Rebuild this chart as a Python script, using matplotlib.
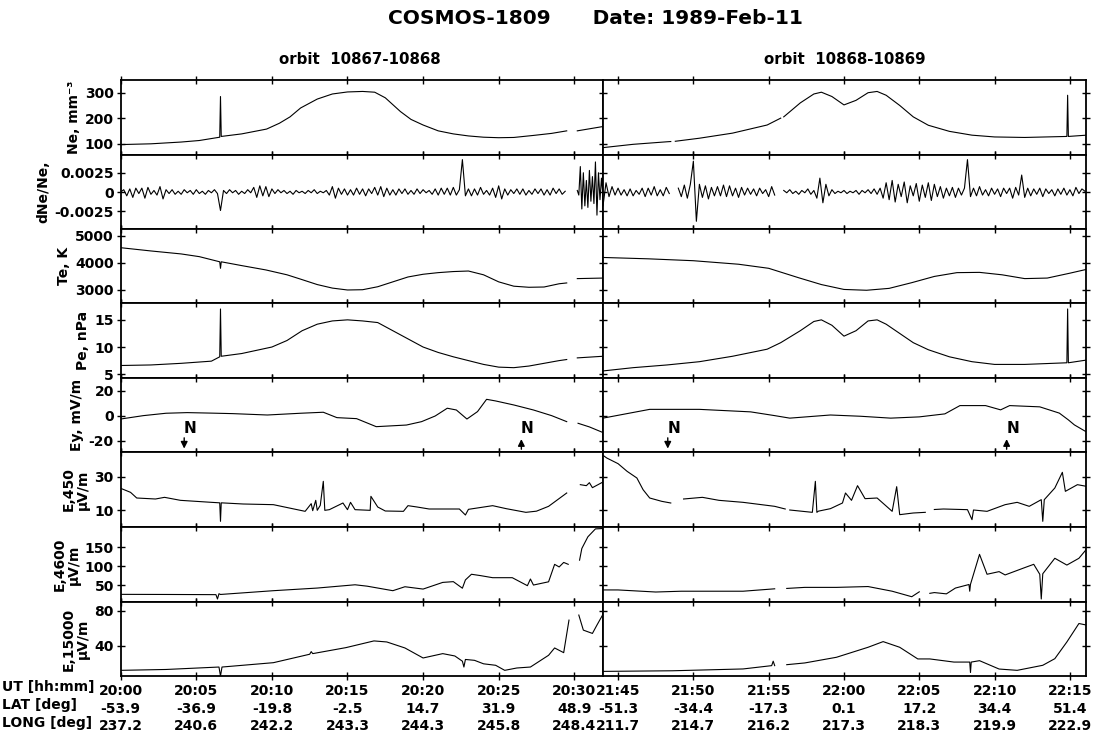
import numpy as np
import matplotlib
matplotlib.use("Agg")
import matplotlib.pyplot as plt

plt.rcParams["font.family"] = ["DejaVu Sans"]
plt.rcParams["font.weight"] = "bold"

nan = np.nan

# ---- orbit 10867-10868 (minutes after 20:00) / orbit 10868-10869 (minutes after 21:45)
ut_left = ["20:00", "20:05", "20:10", "20:15", "20:20", "20:25", "20:30"]
lat_left = ["-53.9", "-36.9", "-19.8", "-2.5", "14.7", "31.9", "48.9"]
long_left = ["237.2", "240.6", "242.2", "243.3", "244.3", "245.8", "248.4"]
ut_right = ["21:45", "21:50", "21:55", "22:00", "22:05", "22:10", "22:15"]
lat_right = ["-51.3", "-34.4", "-17.3", "0.1", "17.2", "34.4", "51.4"]
long_right = ["211.7", "214.7", "216.2", "217.3", "218.3", "219.9", "222.9"]

# Ne
ne_l_t = [0, 2, 4, 5.2, 6.55, 6.6, 6.65, 8, 9.65, 10.5, 11.2, 11.9, 13, 14, 15, 16, 16.8,
          17.5, 18.5, 19.2, 20, 21, 22, 23, 24, 25, 26, 27.3, 28.5, 29.5, 29.6, 30.2, 31, 31.9]
ne_l = [96, 99, 106, 112, 125, 285, 128, 138, 157, 180, 205, 240, 275, 295, 303, 305, 302,
        280, 226, 195, 173, 150, 138, 130, 125, 123, 124, 132, 140, 150, nan, 150, 158, 167]
ne_r_t = [-1, 1, 3.25, 3.5, 3.6, 3.8, 5.4, 7.6, 9.9, 10.8, 10.9, 11.0, 12.1, 13, 13.5, 14.2, 15,
          15.8, 16.6, 17.2, 17.8, 18.7, 19.6, 20.6, 22, 23.5, 25, 27, 29.8, 29.85, 29.9, 31.1]
ne_r = [84, 97, 107, 108, nan, 109, 121, 141, 173, 200, nan, 205, 260, 295, 302, 285, 252,
        270, 300, 305, 290, 250, 205, 172, 148, 133, 126, 124, 128, 290, 128, 133]

# dNe/Ne, units of 1e-4, sampled every 0.2 min
dne_l = [0, 3, -5, 4, -7, 5, -2, 5, -8, 6, -3, 2, -4, 7, -9,
         3, -2, 3, -3, 1, -3, 3, -1, 2, -3, 3, -2, 1, -3, 2, -1, 3, -2,
         -24,
         2, -2, 3, -1, 2, -3, 1, -2, 3, -1,
         6, -7, 8, -5, 7, -6, 4,
         -2, 3, -1, 2, -2, 1, -3, 2, -1, 1, -2, 2, -1, 3, -2, 1, -1, 2,
         -4, 7, -8, 5, -3,
         4, -4, 3, -4, 5, -3, 4, -5, 4, -2, 6, -4, 7, -6, 5, -4, 3, -4, 4, -2, 4, -3,
         2, -3, 4, -2, 3, -1, 2, -3, 4, -4, 5, -3, 5, -4, 6, -4, 3,
         42, -5,
         4, -5, 4, -4, 6, -3, 2, -4, 5, -7, 8, -9, 4, -4, 3, -2, 4, -3, 4, -4, 2, -3,
         4, -2, 4, -4, 3, -4, 5, -2, 4, -3, 1]
dne_l_burst = [2, -4, 33, -22, 25, -18, 15, -20, 28, -12, 20, -15, 39, -30, 25, -10, 18, -5]
dne_r = [-18, 12, -6, 7, -4, 5, -4, 3, -5, 4, -5, 2, -3, 5, -6, 5, -4, 7, -5, 3, -5, 6, -2,
         nan, nan,
         5, -6, 9, -8, 10,
         40, -38,
         10, -7, 8, -9, 6, -5,
         7, -5, 9, -6, 8, -5, 5, -7, 6, -4, 5, -3, 4, -5, 5, -2, 3, -6, 7, -4,
         nan, nan,
         2, -1, 3, -2, 1, -3, 2, -1, 4, -3, 2,
         -8, 18, -14, 10, -5,
         3, -2, 1, -1, 2, -2, 1, -1, 2, -3, 2, -1, 3, -2, 4, -3, 5,
         -8, 12, -10, 15, -13, 10, -6, 13, -14, 8, -5, 11, -12, 9, -7, 12, -11,
         10, -6, 7, -8, 5, -5, 6, -7, 5, -4, 5,
         42,
         -6, 5, -5, 7, -4, 3, -5, 5, -3, 4, -6, 5, -2, 5, -8, 6, -4,
         22,
         -7, 5, -5, 4, -3, 5, -6, 4, -2, 3, -5, 4, -3, 5, -4, 3, -5, 6, -2, 4, 1]

# Te
te_l_t = [0, 2, 4, 5.2, 6.55, 6.6, 6.65, 8, 9.6, 11, 11.9, 13, 14, 15, 16, 17, 18, 19, 20,
          21, 22, 23, 24, 25, 26, 27, 28, 29, 29.5, 29.6, 30.2, 31.9]
te_l = [4560, 4440, 4330, 4230, 4040, 3800, 4040, 3900, 3740, 3560, 3400, 3200, 3070, 3000,
        3010, 3120, 3300, 3480, 3580, 3640, 3680, 3700, 3560, 3300, 3140, 3100, 3110, 3230,
        3260, nan, 3420, 3440]
te_r_t = [-1, 2, 5, 8, 10, 12, 13.5, 15, 16.5, 18, 19.5, 21, 22.5, 24, 25.5, 27, 28.5, 30, 31.1]
te_r = [4200, 4150, 4080, 3950, 3800, 3450, 3200, 3020, 2990, 3060, 3270, 3500, 3640, 3650,
        3560, 3420, 3440, 3620, 3760]

# Pe
pe_l_t = [0, 2, 4, 6, 6.55, 6.6, 6.65, 8, 10, 11, 12, 13, 14, 15, 16, 17, 18, 19, 20, 21,
          22, 23, 24, 25, 26, 27, 28, 29, 29.5, 29.6, 30.2, 31.9]
pe_l = [6.6, 6.7, 7.0, 7.4, 8.2, 17.0, 8.3, 8.8, 10.0, 11.2, 13.0, 14.2, 14.8, 15.0, 14.8,
        14.5, 13.0, 11.5, 10.0, 9.0, 8.2, 7.5, 6.8, 6.3, 6.2, 6.5, 7.0, 7.5, 7.7, nan, 8.0, 8.3]
pe_r_t = [-1, 1, 3.25, 5.4, 7.6, 9.9, 10.8, 12.1, 13, 13.5, 14.2, 15, 15.8, 16.6, 17.2, 17.8,
          18.7, 19.6, 20.6, 22, 23.5, 25, 27, 29.8, 29.85, 29.9, 31.1]
pe_r = [5.6, 6.2, 6.7, 7.3, 8.3, 9.6, 10.8, 13.0, 14.7, 15.0, 14.0, 12.0, 13.0, 14.8, 15.0,
        14.2, 12.5, 10.8, 9.5, 8.2, 7.3, 6.8, 6.8, 7.1, 17.0, 7.1, 7.6]

# Ey
ey_l_t = [0, 1.5, 3.0, 4.4, 6, 7.4, 9.7, 11.9, 13.4, 14.3, 15.6, 16.9, 18.9, 19.9, 20.8, 21.6,
          22.2, 22.9, 23.6, 24.2, 24.8, 26, 27.3, 28.5, 29.5, 29.7, 30.25, 31, 31.9]
ey_l = [-2.7, 0, 1.9, 2.4, 2.0, 1.6, 0.5, 1.9, 2.7, -1.6, -2.4, -8.8, -7.5, -4.8, -0.3, 5.9,
        4.5, -2.7, 3.2, 13.0, 11.7, 8.5, 4.5, 0, -4.8, nan, -6.1, -9, -13.5]
ey_r_t = [-1, 2.1, 5.4, 8.8, 10.4, 11.4, 14.1, 16.1, 18.1, 20, 21.7, 22.7, 24.4, 25.4, 26,
          28, 29.3, 29.9, 30.3, 31.1]
ey_r = [-2, 5, 5, 3, 0, -2, 0.5, -0.5, -2, -1, 1.4, 8, 8, 4.6, 8, 7, 2, -3.4, -7.4, -13]

# E,450
e450_l_t = [0, 0.65, 1.06, 2.3, 2.9, 3.95, 6.0, 6.55, 6.6, 6.65, 8.1, 10.1, 12.2, 12.6, 12.7,
            12.9, 13.0, 13.2, 13.4, 13.5, 13.8, 14.7, 15.0, 15.2, 15.5, 16.5, 16.55, 17.0,
            17.5, 18.7, 19.0, 19.6, 20.4, 22.4, 22.8, 23.0, 24.6, 25.5, 26.8, 27.5, 28.3,
            28.9, 29.5, 29.6, 30.4, 30.8, 31.0, 31.2, 31.9]
e450_l = [23.2, 20.8, 17.4, 16.8, 17.8, 16.0, 14.8, 14.5, 3.4, 14.5, 13.8, 13.4, 9.4, 14.0,
          9.8, 16.0, 10.0, 13.0, 27.4, 10.0, 10.4, 14.4, 10.4, 14.8, 10.4, 10.0, 18.4, 12.0,
          9.6, 9.4, 12.8, 12.0, 10.8, 10.8, 7.2, 10.6, 12.8, 11.0, 8.8, 9.5, 12.4, 16.4,
          20.4, nan, 25.4, 24.8, 26.6, 23.6, 27.0]
e450_r_t = [-1, -0.75, 0, 0.6, 1.25, 1.66, 2.1, 2.9, 3.5, 3.7, 4.1, 4.35, 5.6, 6.7, 8.3,
            10.4, 11.1, 11.2, 11.4, 12.9, 13.1, 13.2, 13.3, 14.1, 14.9, 15.1, 15.5, 15.9,
            16.4, 17.2, 18.2, 18.5, 18.7, 19.6, 20.4, 20.6, 21.0, 21.6, 23.2, 23.5, 23.6,
            24.5, 25.7, 26.5, 27.3, 28.1, 28.2, 28.3, 29.0, 29.5, 29.7, 30.5, 31.1]
e450_r = [43.0, 41.4, 38.0, 33.4, 29.4, 22.4, 17.4, 15.4, 14.4, nan, nan, 16.8, 17.8, 16.0,
          14.8, 12.4, 10.8, nan, 10.2, 8.8, 27.4, 8.8, 9.5, 11.0, 14.4, 20.4, 16.0, 24.8,
          17.0, 17.4, 9.4, 24.2, 7.4, 8.4, 8.8, nan, 10.5, 10.8, 10.4, 4.4, 10.2, 9.4, 13.4,
          14.8, 12.4, 16.4, 3.4, 16.4, 23.4, 32.8, 21.4, 25.4, 24.4]

# E,4600
e4600_l_t = [0, 3, 6.3, 6.4, 6.5, 6.6, 8, 10.1, 13, 15.5, 16.3, 18.0, 18.8, 20.0, 21.3, 22.0,
             22.6, 22.8, 23.2, 23.8, 24.6, 25.9, 26.9, 27.1, 27.3, 28.3, 28.7, 29.0, 29.3,
             29.6, 29.7, 30.35, 30.5, 30.9, 31.4, 31.9]
e4600_l = [25.3, 25.0, 24.5, 13.0, 27.0, 25.0, 29.0, 35.0, 42.0, 50.7, 47.0, 35.0, 45.5, 39.3,
           57.0, 59.0, 41.6, 63.6, 78.6, 75.0, 69.5, 69.5, 48.3, 66.0, 50.0, 58.6, 104.9,
           98.0, 110.0, 105.0, nan, 116.0, 147.0, 178.0, 199.0, 200.0]
e4600_r_t = [-1, 0, 2.5, 4.2, 8.3, 10.4, 10.8, 11.2, 12.4, 14.5, 16.6, 18.2, 19.5, 20.0,
             20.3, 20.7, 21.0, 21.8, 22.4, 23.3, 23.35, 23.4, 24.0, 24.5, 25.3, 25.7, 27.0,
             27.6, 28.0, 28.1, 28.2, 29.0, 29.8, 30.6, 31.1]
e4600_r = [37.0, 37.0, 31.5, 33.6, 33.6, 40.0, nan, 41.0, 43.8, 43.8, 46.0, 33.6, 19.0, 32.0,
           nan, 28.0, 30.0, 26.6, 42.0, 51.4, 33.6, 52.0, 131.4, 78.6, 85.6, 76.8, 96.2, 105.0,
           78.6, 13.0, 80.0, 121.0, 103.0, 121.0, 145.0]

# E,15000
e15k_l_t = [0, 3, 6.5, 6.6, 6.7, 10.1, 12.5, 12.6, 12.7, 14.9, 16.75, 17.6, 18.8, 20.0, 21.3,
            22.1, 22.6, 22.7, 22.8, 23.4, 24.0, 24.8, 25.4, 26.2, 27.1, 28.3, 28.7, 29.3,
            29.65, 29.8, 30.3, 30.6, 31.2, 31.5, 31.9]
e15k_l = [11.5, 12.5, 15.3, 5.0, 15.3, 20.3, 30.0, 33.0, 30.7, 37.6, 45.3, 44.1, 37.2, 25.7,
          30.7, 28.0, 22.0, 15.3, 24.0, 23.0, 19.0, 17.3, 11.5, 14.2, 15.3, 28.8, 37.2, 31.8,
          69.2, nan, 75.0, 57.7, 53.9, 63.5, 75.9]
e15k_r_t = [-1, 3.6, 8.3, 10.2, 10.3, 10.4, 10.8, 11.2, 12.4, 14.5, 16.6, 17.6, 18.7, 19.9,
            20.7, 22.3, 23.35, 23.4, 23.45, 24.0, 25.3, 26.5, 28.2, 29.0, 29.8, 30.6, 31.1]
e15k_r = [10.3, 11.0, 13.1, 16.9, 22.0, 16.9, nan, 18.0, 20.0, 26.5, 38.0, 44.5, 38.0, 24.6,
          24.6, 21.0, 21.0, 9.0, 21.0, 22.6, 13.0, 11.5, 17.3, 24.9, 44.1, 65.3, 63.5]

# N arrows: (time, pointing down?)
arrows_left = [(4.2, True), (26.5, False)]
arrows_right = [(3.3, True), (25.8, False)]

panels = [
    ("Ne, mm⁻³", (55, 350), [100, 200, 300], ["100", "200", "300"]),
    ("dNe/Ne,", (-0.0048, 0.0048), [-0.0025, 0, 0.0025], ["-0.0025", "0", "0.0025"]),
    ("Te, K", (2520, 5250), [3000, 4000, 5000], ["3000", "4000", "5000"]),
    ("Pe, nPa", (4.3, 18.1), [5, 10, 15], ["5", "10", "15"]),
    ("Ey, mV/m", (-29, 30), [-20, 0, 20], ["-20", "0", "20"]),
    ("E,450\nμV/m", (0, 45), [10, 30], ["10", "30"]),
    ("E,4600\nμV/m", (5, 204), [50, 100, 150], ["50", "100", "150"]),
    ("E,15000\nμV/m", (5, 90), [40, 80], ["40", "80"]),
]

t_dne_l = np.round(np.arange(len(dne_l)) * 0.2, 1)
t_dne_lb = np.round(30.2 + np.arange(len(dne_l_burst)) * 0.1, 1)
t_dne_r = np.round(-1 + np.arange(len(dne_r)) * 0.2, 1)

series = [
    ((ne_l_t, ne_l), (ne_r_t, ne_r)),
    ((np.concatenate([t_dne_l, [29.8], t_dne_lb]),
      np.concatenate([dne_l, [nan], dne_l_burst]) * 1e-4),
     (t_dne_r, np.array(dne_r) * 1e-4)),
    ((te_l_t, te_l), (te_r_t, te_r)),
    ((pe_l_t, pe_l), (pe_r_t, pe_r)),
    ((ey_l_t, ey_l), (ey_r_t, ey_r)),
    ((e450_l_t, e450_l), (e450_r_t, e450_r)),
    ((e4600_l_t, e4600_l), (e4600_r_t, e4600_r)),
    ((e15k_l_t, e15k_l), (e15k_r_t, e15k_r)),
]

W, H = 1099, 731
fig = plt.figure(figsize=(W / 100, H / 100), dpi=100)
rows = [80, 155, 229, 303, 378, 452, 527, 602, 676]
cols = [(120.7, 603), (603, 1086)]
xlims = [(0, 31.9), (-1, 31.07)]
fs = 10

for i, (label, ylim, yt, ytl) in enumerate(panels):
    for j in range(2):
        x0, x1 = cols[j]
        ax = fig.add_axes([x0 / W, 1 - rows[i + 1] / H, (x1 - x0) / W,
                           (rows[i + 1] - rows[i]) / H])
        t, v = series[i][j]
        ax.plot(t, v, color="black", lw=0.8)
        ax.set_xlim(*xlims[j])
        ax.set_ylim(*ylim)
        ax.set_xticks([0, 5, 10, 15, 20, 25, 30])
        for s in ax.spines.values():
            s.set_linewidth(1.3)
        ax.tick_params(axis="x", direction="inout", length=6, width=1, top=True,
                       bottom=True, labelbottom=False)
        ax.set_yticks(yt)
        if j == 0:
            ax.set_yticklabels(ytl)
            ax.tick_params(axis="y", direction="inout", length=6, width=1,
                           labelsize=fs, pad=2)
            ax.set_ylabel(label, fontsize=fs, fontweight="bold", labelpad=3,
                          linespacing=1.0)
        else:
            ax.tick_params(axis="y", direction="inout", length=6, width=1,
                           left=True, right=True, labelleft=False)
        if i == 4:
            arrows = arrows_left if j == 0 else arrows_right
            for ta, down in arrows:
                if down:
                    ax.annotate("", xy=(ta, -28.5), xytext=(ta, -15.5),
                                arrowprops=dict(arrowstyle="-|>", color="black",
                                                lw=1, mutation_scale=10))
                else:
                    ax.annotate("", xy=(ta, -16.5), xytext=(ta, -29),
                                arrowprops=dict(arrowstyle="-|>", color="black",
                                                lw=1, mutation_scale=10))
                ax.text(ta + 0.4, -10.5, "N", fontsize=11, fontweight="bold",
                        ha="center", va="center")
        if i == len(panels) - 1:
            ut, lat, lon = (ut_left, lat_left, long_left) if j == 0 else \
                (ut_right, lat_right, long_right)
            labels = [f"{a}\n{b}\n{c}" for a, b, c in zip(ut, lat, lon)]
            ax.set_xticklabels(labels, fontsize=fs, fontweight="bold",
                               linespacing=1.3)
            ax.tick_params(axis="x", labelbottom=True, pad=3)

for k, txt in enumerate(["UT [hh:mm]", "LAT [deg]", "LONG [deg]"]):
    fig.text(2 / W, 1 - (687 + 18 * k) / H, txt, fontsize=fs, fontweight="bold",
             ha="left", va="center")

fig.text(595 / W, 1 - 18 / H, "COSMOS-1809      Date: 1989-Feb-11", fontsize=14.5,
         fontweight="bold", ha="center", va="center")
fig.text(360 / W, 1 - 60 / H, "orbit  10867-10868", fontsize=10.8, fontweight="bold",
         ha="center", va="center")
fig.text(845 / W, 1 - 60 / H, "orbit  10868-10869", fontsize=10.8, fontweight="bold",
         ha="center", va="center")

fig.savefig("out.png", dpi=100)
